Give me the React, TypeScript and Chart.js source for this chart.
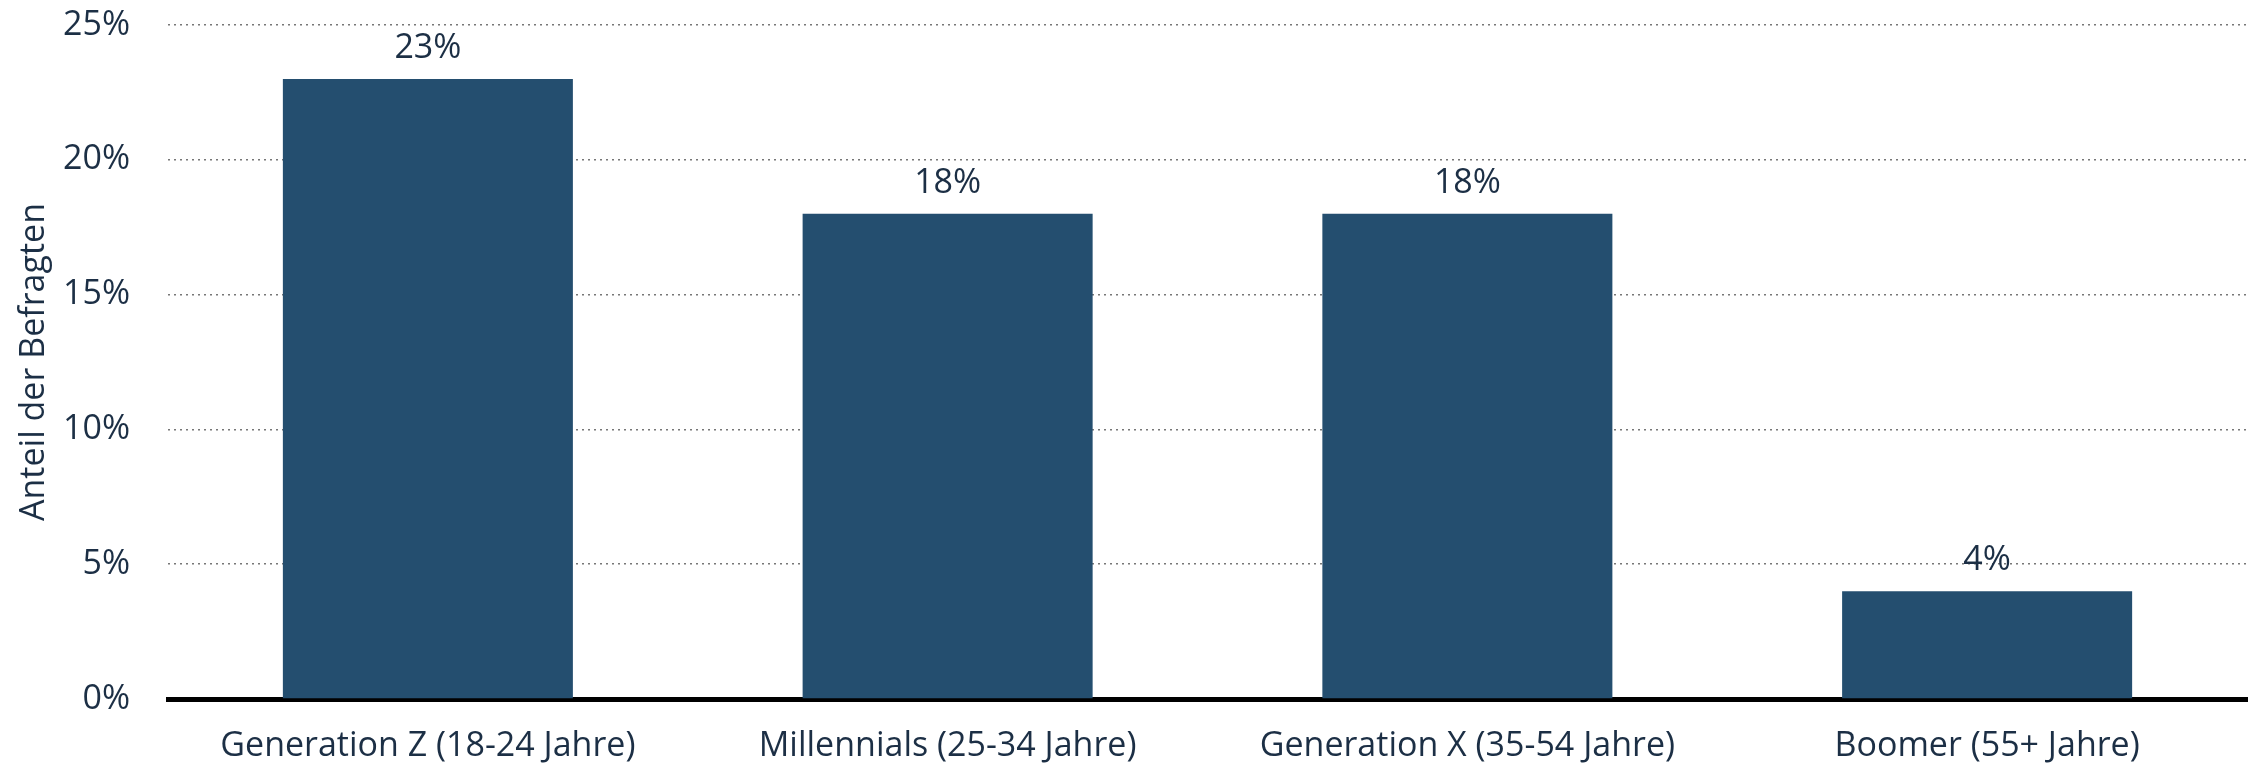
import React, { useEffect, useRef } from "react";
import { Chart, registerables } from "chart.js";

Chart.register(...registerables);

const categories = [
  "Generation Z (18-24 Jahre)",
  "Millennials (25-34 Jahre)",
  "Generation X (35-54 Jahre)",
  "Boomer (55+ Jahre)",
];
const shares = [23, 18, 18, 4];
const yTicks = [0, 5, 10, 15, 20, 25];
const yTitle = "Anteil der Befragten";

const TEXT = "#1c2f45";
const BAR = "#244e6f";
const FONT = "'Open Sans', 'Noto Sans', sans-serif";

const valueLabels = {
  id: "valueLabels",
  afterDatasetsDraw(chart: any) {
    const ctx = chart.ctx;
    const meta = chart.getDatasetMeta(0);
    ctx.save();
    ctx.font = `34px ${FONT}`;
    ctx.fillStyle = TEXT;
    ctx.textAlign = "center";
    ctx.textBaseline = "alphabetic";
    meta.data.forEach((el: any, i: number) => {
      ctx.fillText(`${shares[i]}%`, el.x, el.y - 21);
    });
    ctx.restore();
  },
};

export default function App() {
  const ref = useRef<HTMLCanvasElement | null>(null);
  useEffect(() => {
    document.body.style.margin = "0";
    const canvas = ref.current!;
    const chart = new Chart(canvas, {
      type: "bar",
      data: {
        labels: categories,
        datasets: [
          {
            data: shares,
            backgroundColor: BAR,
            borderWidth: 0,
            categoryPercentage: 1,
            barPercentage: 0.558,
          },
        ],
      },
      options: {
        animation: false,
        responsive: false,
        maintainAspectRatio: false,
        layout: { padding: { top: 25, right: 5, bottom: 0, left: 0 } },
        plugins: { legend: { display: false }, tooltip: { enabled: false } },
        scales: {
          x: {
            afterFit: (scale: any) => {
              scale.height = 68;
              scale.paddingLeft = 0;
              scale.paddingRight = 0;
            },
            grid: { display: false, drawTicks: false },
            border: { display: true, color: "#000", width: 5 },
            ticks: {
              color: TEXT,
              font: { family: FONT, size: 34 },
              padding: 27,
              maxRotation: 0,
              autoSkip: false,
            },
          },
          y: {
            min: 0,
            max: 25,
            afterBuildTicks: (scale: any) => {
              scale.ticks = yTicks.map((v) => ({ value: v }));
            },
            afterFit: (scale: any) => {
              scale.width = 168;
              scale.paddingTop = 0;
              scale.paddingBottom = 0;
            },
            grid: {
              color: "#777",
              lineWidth: 1.5,
              drawTicks: false,
            },
            border: { display: false, dash: [2, 4] },
            ticks: {
              color: TEXT,
              font: { family: FONT, size: 34 },
              padding: 38,
              callback: (v: any) => `${v}%`,
            },
            title: {
              display: true,
              text: yTitle,
              color: TEXT,
              font: { family: FONT, size: 34 },
              padding: { top: 14, bottom: 0 },
            },
          },
        },
      },
      plugins: [valueLabels],
    });
    return () => chart.destroy();
  }, []);
  return (
    <div style={{ width: 2252, height: 767 }}>
      <canvas ref={ref} width={2252} height={767} style={{ display: "block" }} />
    </div>
  );
}
